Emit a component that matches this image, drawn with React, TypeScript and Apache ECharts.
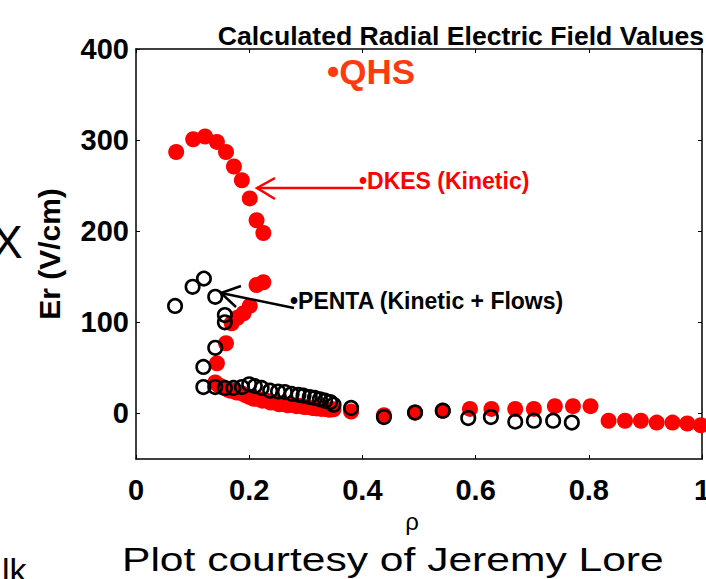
import React, { useEffect, useRef } from 'react';
import * as echarts from 'echarts';

// DKES (Kinetic) — filled red markers
const dkesRho = [
  0.071, 0.101, 0.122, 0.143, 0.159, 0.173, 0.187, 0.201, 0.213, 0.225,
  0.213, 0.225, 0.201, 0.190, 0.179, 0.169, 0.159, 0.143, 0.140,
  0.146, 0.152, 0.160, 0.166, 0.171, 0.178, 0.187, 0.194, 0.201, 0.208, 0.216, 0.223,
  0.231, 0.238, 0.246, 0.253, 0.260, 0.268, 0.275, 0.283, 0.290, 0.297, 0.304, 0.312,
  0.319, 0.327, 0.334, 0.342, 0.349,
  0.380, 0.438, 0.493, 0.542, 0.590, 0.628, 0.670, 0.703, 0.740, 0.772, 0.803,
  0.835, 0.864, 0.892, 0.920, 0.948, 0.974, 0.998,
];
const dkesEr = [
  287, 301, 304, 298, 287, 271, 256, 236, 212, 198,
  141, 144, 118, 110, 105, 99, 77, 55, 34,
  31, 29, 27, 25, 25, 23, 22, 20, 18, 16, 16, 14,
  14, 12, 12, 10, 10.5, 9, 9.5, 8, 8.5, 7, 7, 6,
  5.5, 5, 5, 4, 4.5,
  2, -2, 1, 3, 5, 5, 5, 5, 8, 8, 8,
  -8, -8, -8, -10, -10, -11, -13,
];

// PENTA (Kinetic + Flows) — open black markers
const pentaRho = [
  0.069, 0.100, 0.120, 0.140, 0.157, 0.157, 0.140, 0.119, 0.119,
  0.140, 0.157, 0.172, 0.187, 0.200, 0.210, 0.222, 0.237, 0.251, 0.263,
  0.275, 0.287, 0.296, 0.307, 0.316, 0.325, 0.334, 0.343, 0.349,
  0.380, 0.438, 0.493, 0.542, 0.587, 0.627, 0.670, 0.703, 0.737, 0.770,
];
const pentaEr = [
  118, 139, 148, 128, 108, 100, 72, 51, 29,
  29, 28, 28, 29, 32, 30, 28, 25, 24, 23.5,
  21.5, 20.5, 19.5, 18, 17, 15.5, 14, 12.5, 9.5,
  6, -4, 1, 3, -5, -4, -9, -8, -8, -10,
];

const xTickValues = [0, 0.2, 0.4, 0.6, 0.8, 1];
const yTickValues = [0, 100, 200, 300, 400];

const FONT = 'Liberation Sans, Arial, sans-serif';

export default function App() {
  const ref = useRef<HTMLDivElement>(null);

  useEffect(() => {
    if (!ref.current) return;
    const chart = echarts.init(ref.current, null, { renderer: 'svg' });

    const axisLine = { show: true, onZero: false, lineStyle: { color: '#000', width: 1.5 } };
    const axisTick = { show: true, inside: true, length: 4, lineStyle: { color: '#000', width: 1 } };
    const labelStyle = { fontFamily: FONT, fontWeight: 'bold' as const, fontSize: 29, color: '#000' };

    const option: any = {
      animation: false,
      backgroundColor: '#fff',
      grid: { left: 136, right: 4, top: 49, bottom: 120, containLabel: false, outerBoundsMode: 'none' },
      xAxis: [
        {
          type: 'value', min: 0, max: 1, position: 'bottom',
          axisLine, axisTick: { ...axisTick, customValues: xTickValues },
          axisLabel: { ...labelStyle, margin: 16, customValues: xTickValues, formatter: (v: number) => String(Math.round(v * 10) / 10) },
          splitLine: { show: false },
        },
        {
          type: 'value', min: 0, max: 1, position: 'top',
          axisLine, axisTick: { ...axisTick, customValues: xTickValues },
          axisLabel: { show: false }, splitLine: { show: false },
        },
      ],
      yAxis: [
        {
          type: 'value', min: -50, max: 400, position: 'left',
          name: 'Er (V/cm)', nameLocation: 'middle', nameGap: 72, nameRotate: 90,
          nameTextStyle: { fontFamily: FONT, fontWeight: 'bold', fontSize: 30, color: '#000' },
          axisLine, axisTick: { ...axisTick, customValues: yTickValues },
          axisLabel: { ...labelStyle, margin: 7, customValues: yTickValues },
          splitLine: { show: false },
        },
        {
          type: 'value', min: -50, max: 400, position: 'right',
          axisLine, axisTick: { ...axisTick, customValues: yTickValues },
          axisLabel: { show: false }, splitLine: { show: false },
        },
      ],
      series: [
        {
          type: 'scatter', xAxisIndex: 0, yAxisIndex: 0, clip: true,
          symbol: 'circle', symbolSize: 16,
          itemStyle: { color: '#ff0000', opacity: 1 },
          data: dkesRho.map((x, i) => [x, dkesEr[i]]),
        },
        {
          type: 'scatter', xAxisIndex: 0, yAxisIndex: 0, clip: true,
          symbol: 'circle', symbolSize: 13.5,
          itemStyle: { color: 'rgba(0,0,0,0)', borderColor: '#000', borderWidth: 2.6, opacity: 1 },
          data: pentaRho.map((x, i) => [x, pentaEr[i]]),
        },
      ],
      graphic: [
        {
          type: 'text', z: 10,
          style: { text: 'Calculated Radial Electric Field Values', x: 704, y: 36, align: 'right', verticalAlign: 'middle',
            font: `bold 26.6px ${FONT}`, fill: '#000' },
        },
        {
          type: 'text', z: 10,
          style: { text: '•QHS', x: 327, y: 71, align: 'left', verticalAlign: 'middle',
            font: `bold 35px ${FONT}`, fill: '#ff3a10' },
        },
        {
          type: 'text', z: 10,
          style: { text: '•DKES (Kinetic)', x: 359, y: 181, align: 'left', verticalAlign: 'middle',
            font: `bold 23px ${FONT}`, fill: '#ff0000' },
        },
        {
          type: 'text', z: 10,
          style: { text: '•PENTA (Kinetic + Flows)', x: 290, y: 301, align: 'left', verticalAlign: 'middle',
            font: `bold 23px ${FONT}`, fill: '#000' },
        },
        {
          type: 'polyline', z: 10,
          shape: { points: [[363, 188], [257, 188]] },
          style: { stroke: '#ff0000', lineWidth: 2.5, fill: 'none' },
        },
        {
          type: 'polyline', z: 10,
          shape: { points: [[275, 178], [257, 188], [275, 199]] },
          style: { stroke: '#ff0000', lineWidth: 2.5, fill: 'none' },
        },
        {
          type: 'polyline', z: 10,
          shape: { points: [[294, 308], [221, 293]] },
          style: { stroke: '#000', lineWidth: 2.5, fill: 'none' },
        },
        {
          type: 'polyline', z: 10,
          shape: { points: [[241, 286], [221, 293], [236, 307]] },
          style: { stroke: '#000', lineWidth: 2.5, fill: 'none' },
        },
        {
          type: 'text', z: 10,
          style: { text: 'ρ', x: 412, y: 521, align: 'center', verticalAlign: 'middle',
            font: `24px ${FONT}`, fill: '#000' },
        },
        {
          type: 'text', z: 10, x: 122, y: 560, scaleX: 1.29, scaleY: 1,
          style: { text: 'Plot courtesy of Jeremy Lore', x: 0, y: 0, align: 'left', verticalAlign: 'middle',
            font: `33px ${FONT}`, fill: '#000' },
        },
        {
          type: 'text', z: 10,
          style: { text: 'X', x: -8, y: 242, align: 'left', verticalAlign: 'middle',
            font: `46px ${FONT}`, fill: '#000' },
        },
        {
          type: 'text', z: 10,
          style: { text: 'lk', x: 2, y: 553, align: 'left', verticalAlign: 'top',
            font: `34px ${FONT}`, fill: '#000' },
        },
      ],
    };

    chart.setOption(option);
    return () => chart.dispose();
  }, []);

  return (
    <div
      ref={ref}
      style={{ position: 'fixed', left: 0, top: 0, width: 706, height: 579, background: '#fff' }}
    />
  );
}
